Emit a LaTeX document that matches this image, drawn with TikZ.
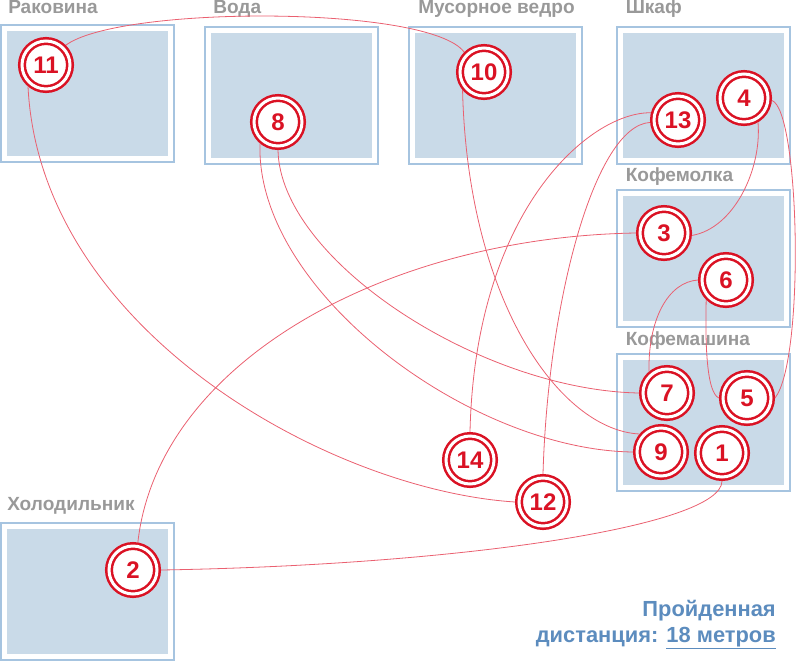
\documentclass[tikz,border=0pt]{standalone}
\usepackage{fontspec}
\setmainfont{Liberation Sans}
\usetikzlibrary{positioning}
\definecolor{zoneline}{RGB}{166,196,224}
\definecolor{zonefill}{RGB}{201,218,232}
\definecolor{labelgrey}{RGB}{153,153,153}
\definecolor{stopred}{RGB}{218,18,36}
\definecolor{walkline}{RGB}{234,96,112}
\definecolor{distblue}{RGB}{92,140,190}
\begin{document}
\begin{tikzpicture}[x=0.75pt,y=-0.75pt,
    zone/.style={rectangle, draw=zoneline, line width=1.5pt, fill=white, inner sep=0, minimum width=129.75pt, minimum height=102.75pt,
        path picture={\fill[zonefill] ([shift={(4.5pt,-4.5pt)}]path picture bounding box.north west) rectangle ([shift={(-4.5pt,4.5pt)}]path picture bounding box.south east);}},
    zonelabel/.style={text=labelgrey, font=\bfseries\fontsize{14.3}{17}\selectfont, inner sep=0, text depth=0pt},
    stop/.style={circle, draw=stopred, line width=1.9pt, double=white, double distance=2.25pt, fill=white, minimum size=36pt, inner sep=0, outer sep=3pt, text=stopred, font=\bfseries\fontsize{18}{20}\selectfont},
    walk/.style={draw=walkline, line width=0.6pt},
    distlabel/.style={text=distblue, font=\bfseries\fontsize{16.4}{19.5}\selectfont, inner sep=0}]
        \useasboundingbox (0,0) rectangle (800,661);
        \node[zone] (sink) at (87.5,93.5) {};
        \node[zone] (water) at (291.5,95.5) {};
        \node[zone] (bin) at (495.5,95.5) {};
        \node[zone] (cupboard) at (703,95.5) {};
        \node[zone] (grinder) at (703,258.5) {};
        \node[zone] (machine) at (703,422.5) {};
        \node[zone] (fridge) at (87.5,591) {};
        \node[zonelabel, above right=7.5pt and 6pt of sink.north west] {Раковина};
        \node[zonelabel, above right=9pt and 6.75pt of water.north west] {Вода};
        \node[zonelabel, above right=9pt and 7.5pt of bin.north west] {Мусорное ведро};
        \node[zonelabel, above right=9pt and 7.5pt of cupboard.north west] {Шкаф};
        \node[zonelabel, above right=5.25pt and 7.5pt of grinder.north west] {Кофемолка};
        \node[zonelabel, above right=5.25pt and 7.5pt of machine.north west] {Кофемашина};
        \node[zonelabel, above right=8.25pt and 5.25pt of fridge.north west] {Холодильник};
        \node[stop] (stop1) at (722,453) {1};
        \node[stop] (stop2) at (133,570) {2};
        \node[stop] (stop3) at (664,233) {3};
        \node[stop] (stop4) at (744,98) {4};
        \node[stop] (stop5) at (747,398) {5};
        \node[stop] (stop6) at (726,280) {6};
        \node[stop] (stop7) at (667,393) {7};
        \node[stop] (stop8) at (278,122) {8};
        \node[stop] (stop9) at (661,452) {9};
        \node[stop] (stop10) at (484,72) {10};
        \node[stop] (stop11) at (46,65) {11};
        \node[stop] (stop12) at (543,502) {12};
        \node[stop] (stop13) at (678,120) {13};
        \node[stop] (stop14) at (470,460) {14};
        \draw[walk] (stop1.south) .. controls +(0,45) and +(300,-5) .. (stop2.east);
        \draw[walk] (stop2.80) .. controls +(20,-180) and +(-250,4) .. (stop3.west);
        \draw[walk] (stop3.-5) .. controls +(42,-7) and +(4,47) .. (stop4.-60);
        \draw[walk] (stop4.-5) .. controls +(28,10) and +(30,-38) .. (stop5.east);
        \draw[walk] (stop5.west) .. controls +(-13,-5) and +(-1,39) .. (stop6.-135);
        \draw[walk] (stop6.west) .. controls +(-30,2) and +(-1,-52) .. (stop7.130);
        \draw[walk] (stop7.west) .. controls +(-159,-3) and +(2,110) .. (stop8.south);
        \draw[walk] (stop8.-130) .. controls +(-5,147) and +(-163,-2) .. (stop9.west);
        \draw[walk] (stop9.140) .. controls +(-80,-4) and +(5,210) .. (stop10.-140);
        \draw[walk] (stop10.135) .. controls +(-34,-47) and +(54,-40) .. (stop11.45);
        \draw[walk] (stop11.-130) .. controls +(12,244) and +(-185,-12) .. (stop12.west);
        \draw[walk] (stop12.north) .. controls +(5,-174) and +(-55,3) .. (stop13.185);
        \draw[walk] (stop13.165) .. controls +(-61,-1) and +(5,-222) .. (stop14.north);
        \node[distlabel, anchor=base east] (walked) at (776,616) {Пройденная};
        \node[distlabel, anchor=base east] (distance) at ([yshift=-19.5pt]walked.base east) {дистанция: \underline{18 метров}};
\end{tikzpicture}
\end{document}
